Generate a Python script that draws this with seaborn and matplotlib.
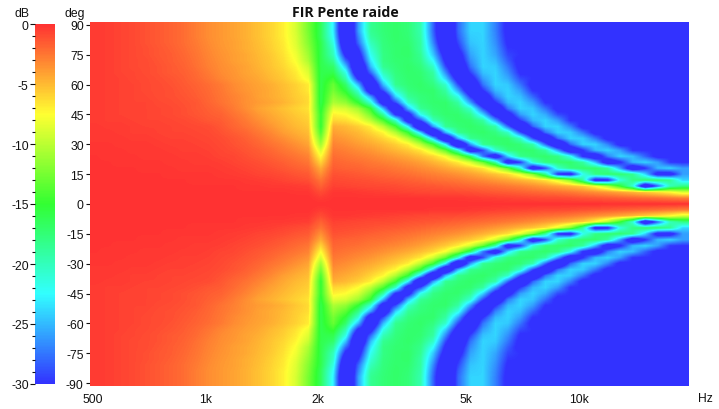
import matplotlib
matplotlib.use("Agg")
import matplotlib.pyplot as plt
from matplotlib.colors import LinearSegmentedColormap
from matplotlib.ticker import FixedLocator
import numpy as np
import pandas as pd
import seaborn as sns

# frequency of each column, 1/9 octave steps read along the x axis
freq_hz = [500, 540, 583, 630, 680, 735, 794, 857, 926, 1000, 1080, 1166,
           1260, 1361, 1470, 1587, 1714, 1852, 2000, 2160, 2333, 2520, 2721, 2939,
           3175, 3429, 3704, 4000, 4320, 4666, 5040, 5443, 5879, 6350, 6858, 7407,
           8000, 8640, 9332, 10079, 10886, 11758, 12699, 13716, 14814, 16000, 17281, 18665]

angles_upper = [90, 87, 84, 81, 78, 75, 72, 69, 66, 63, 60, 57, 54, 51, 48, 45,
                42, 39, 36, 33, 30, 27, 24, 21, 18, 15, 12, 9, 6, 3, 0]

# dB, one row per angle from 90 down to 0.
# rows stop where the plot goes flat blue, the rest is -30
db_upper = [
    [-.4,-.5,-.7,-.9,-1.2,-1.5,-1.8,-2.2,-2.8,-3.4,-3.8,-4.2,-4.7,-5.3,-6,-7,-9,-12.5,-16.5,-23,-38,-26,-18.5,-17.5,-17,-17.5,-19.5,-28,-36,-28,-24,-24,-27,-31],
    [-.4,-.5,-.7,-.9,-1.2,-1.5,-1.8,-2.2,-2.8,-3.4,-3.8,-4.2,-4.7,-5.3,-6,-7,-9,-12.5,-16.5,-23,-38,-26,-18.5,-17.5,-17,-17.5,-19.5,-28,-36,-28,-24,-24,-27,-31],
    [-.4,-.5,-.7,-.9,-1.2,-1.5,-1.8,-2.2,-2.8,-3.4,-3.8,-4.2,-4.7,-5.3,-6,-7,-8.8,-12.2,-16.5,-22.5,-37,-27,-19,-17.6,-17,-17.4,-19.3,-27.5,-35.5,-28.5,-24.3,-24,-26.8,-30.7],
    [-.4,-.5,-.7,-.9,-1.2,-1.5,-1.8,-2.2,-2.7,-3.3,-3.8,-4.1,-4.6,-5.2,-5.9,-6.8,-8.7,-12,-16,-21.5,-36,-28,-20,-17.7,-17.1,-17.2,-19,-26.7,-34.7,-29.3,-24.6,-24,-26.5,-30.4],
    [-.4,-.5,-.7,-.9,-1.1,-1.4,-1.7,-2.1,-2.6,-3.2,-3.7,-4.1,-4.6,-5.1,-5.8,-6.7,-8.4,-11.5,-16,-20.5,-34,-30,-21,-17.8,-17.2,-17,-19,-25.5,-33.7,-30.3,-25.2,-24,-26.1,-29.8],
    [-.4,-.5,-.7,-.9,-1.1,-1.4,-1.6,-2,-2.5,-3.1,-3.6,-4,-4.4,-5,-5.6,-6.5,-8,-11,-16,-20,-31,-32,-22,-18,-17.2,-17,-18.5,-24.3,-32,-32,-25.8,-24,-25.7,-29.2],
    [-.4,-.5,-.7,-.9,-1,-1.3,-1.6,-1.9,-2.4,-3,-3.5,-4,-4.4,-4.9,-5.5,-6.3,-7.7,-10.5,-16,-18.6,-28,-33.8,-23.3,-18,-17.3,-17.2,-18.2,-22.4,-30.8,-33,-26.6,-24,-25,-28.4,-31],
    [-.4,-.5,-.7,-.9,-1,-1.2,-1.5,-1.8,-2.3,-2.9,-3.4,-3.8,-4.2,-4.8,-5.4,-6.1,-7.2,-9.5,-16,-17,-24.6,-36.7,-25,-18.5,-17.5,-17,-17.7,-20.4,-29,-35,-27.6,-24,-24.3,-27.4,-30.9],
    [-.4,-.5,-.7,-.8,-1,-1.2,-1.5,-1.7,-2.1,-2.7,-3.3,-3.7,-4.2,-4.6,-5.2,-5.8,-6.8,-8.7,-16,-16,-21.5,-35,-28,-20,-17.7,-17.1,-17.3,-19,-26.6,-34.6,-29.4,-24.7,-24,-26.5,-30.3],
    [-.4,-.5,-.6,-.8,-.9,-1.1,-1.3,-1.6,-2,-2.5,-3.1,-3.6,-4,-4.4,-5,-5.6,-6.5,-8,-16,-14.5,-19.5,-30.5,-32,-22,-18,-17.2,-17.2,-18.5,-24,-32,-32,-26,-24,-25.5,-29,-30],
    [-.4,-.5,-.6,-.7,-.9,-1,-1.2,-1.5,-1.8,-2.2,-2.7,-3.3,-3.8,-4.2,-4.6,-5.2,-5.9,-6.8,-16,-13,-17,-25,-36,-25,-18.4,-17.4,-17,-17.8,-20.6,-29,-35,-27.5,-24,-24.4,-27.5,-31],
    [-.4,-.5,-.6,-.7,-.9,-1,-1.1,-1.4,-1.7,-2.1,-2.6,-3.2,-3.7,-4.1,-4.5,-5.1,-5.8,-6.7,-16,-12.5,-15.4,-21,-34,-29,-20.6,-17.8,-17.2,-17.1,-19,-25.6,-33.8,-30,-25,-24,-26,-30],
    [-.4,-.5,-.6,-.7,-.8,-1,-1.1,-1.3,-1.6,-2,-2.5,-3,-3.5,-4.1,-4.5,-5,-5.7,-6.3,-16,-11.5,-13.5,-18,-26,-35,-24,-18.7,-17.6,-17.2,-18,-21.6,-30,-34,-27,-24,-24.8,-28,-31],
    [-.4,-.5,-.6,-.7,-.7,-.9,-1,-1.2,-1.4,-1.9,-2.4,-2.9,-3.5,-3.9,-4.3,-4.8,-5.5,-6.2,-16,-10.5,-11.5,-15,-21,-33,-29,-20.5,-17.8,-17.2,-17.1,-19,-26,-34,-30,-25,-24,-26,-30],
    [-.4,-.5,-.6,-.7,-.7,-.8,-.9,-1.1,-1.4,-1.7,-2.1,-2.7,-3.4,-4.2,-4.7,-5.3,-5.9,-6.5,-15.5,-8.5,-9,-11,-15,-25,-36,-25,-18.6,-17.5,-17.1,-17.8,-20.8,-29,-35,-27.4,-24,-24.5,-27.6,-31],
    [-.4,-.5,-.6,-.7,-.7,-.8,-.9,-1.1,-1.3,-1.6,-1.8,-2.4,-3,-3.8,-4.4,-5,-5.6,-6.1,-15,-7,-7.5,-9,-12.5,-19,-30.5,-32,-22,-18,-17.2,-17.2,-18.5,-24,-32,-32,-26,-24,-25.5,-29,-30],
    [-.4,-.5,-.5,-.6,-.7,-.7,-.8,-.9,-1.1,-1.4,-1.6,-2.1,-2.7,-3.4,-4.1,-4.7,-5.3,-5.8,-15,-6,-6.3,-7.5,-10,-14,-20.5,-33,-29,-20,-17.7,-17.1,-17.3,-19,-26,-34,-29.6,-25,-24,-26,-30],
    [-.3,-.4,-.4,-.5,-.6,-.6,-.7,-.8,-.9,-1,-1.4,-1.9,-2.4,-3,-3.7,-4.4,-5,-5.5,-15,-4.6,-5,-5.8,-7,-10,-14.5,-23,-38,-26,-18.5,-17.5,-17,-17.5,-19.5,-28,-36,-28,-24,-24,-27,-31],
    [-.3,-.3,-.4,-.5,-.5,-.6,-.7,-.7,-.8,-.9,-1.2,-1.6,-2,-2.6,-3.2,-4,-4.6,-5.1,-14,-4,-4.5,-5,-6,-7.3,-10.4,-15,-24.5,-37,-25,-18.4,-17.4,-17,-17.8,-20.4,-29,-35,-27.6,-24,-24.3,-27.4,-31],
    [-.3,-.3,-.3,-.4,-.4,-.5,-.6,-.6,-.7,-.8,-1,-1.3,-1.7,-2.2,-2.8,-3.4,-4.1,-4.7,-12.5,-3.5,-3.9,-4.5,-5.1,-6,-7.3,-10.4,-15,-24.5,-37,-25,-18.4,-17.6,-17.1,-17.3,-20.4,-29,-35,-27.6,-24,-24.3,-27.4,-31],
    [-.2,-.2,-.3,-.3,-.3,-.4,-.5,-.5,-.6,-.7,-.9,-1.2,-1.5,-1.9,-2.4,-2.9,-3.5,-4.2,-11,-3,-3.4,-3.9,-4.4,-5,-5.8,-7,-10,-14.5,-23,-38,-26,-18.5,-17.5,-17,-17.5,-19.5,-28,-36,-28,-24,-24,-27,-31],
    [-.2,-.2,-.2,-.3,-.3,-.3,-.4,-.5,-.5,-.6,-.8,-1,-1.3,-1.6,-2,-2.5,-3,-3.6,-9,-2.6,-2.9,-3.3,-3.7,-4.3,-4.9,-5.6,-6.7,-9.2,-13.4,-21,-34,-29,-20.6,-17.8,-17.2,-17.2,-19,-26,-34,-30,-25,-24,-26,-30],
    [-.1,-.2,-.2,-.2,-.3,-.3,-.3,-.4,-.4,-.5,-.7,-.8,-1.1,-1.4,-1.7,-2.1,-2.5,-3,-7.5,-2.2,-2.5,-2.8,-3.1,-3.5,-4,-4.5,-5.2,-6.1,-7.9,-11.5,-17,-27.5,-34,-23.7,-18.2,-17.4,-17.1,-18,-22,-30.4,-33.6,-27,-24,-24.9,-28.2,-31],
    [-.1,-.1,-.2,-.2,-.2,-.2,-.3,-.3,-.4,-.4,-.5,-.7,-.9,-1.1,-1.4,-1.7,-2.1,-2.5,-6,-1.9,-2.1,-2.3,-2.6,-2.9,-3.2,-3.6,-4.1,-4.8,-5.6,-6.9,-9.1,-13,-19.6,-33.5,-29.6,-20.8,-17.8,-17.2,-17.1,-19,-25,-33.6,-30.4,-25,-24,-25.9,-29.8],
    [-.1,-.1,-.1,-.1,-.2,-.2,-.2,-.3,-.3,-.3,-.4,-.5,-.7,-.9,-1.1,-1.4,-1.7,-2,-4.5,-1.6,-1.8,-1.9,-2.2,-2.3,-2.6,-2.9,-3.3,-3.7,-4.3,-4.9,-5.6,-6.7,-9.2,-13.4,-21,-34,-29,-20.6,-17.8,-17.2,-17.2,-19,-26,-34,-30,-25,-24,-26],
    [-.1,-.1,-.1,-.1,-.1,-.1,-.2,-.2,-.2,-.2,-.3,-.4,-.5,-.7,-.8,-1,-1.3,-1.5,-3.5,-1.2,-1.3,-1.5,-1.7,-1.9,-2.1,-2.3,-2.6,-2.9,-3.2,-3.6,-4.1,-4.7,-5.4,-6.4,-8.5,-12,-18.8,-30.5,-32,-22,-18,-17.2,-17.2,-18.5,-24,-32,-32,-26],
    [-.1,-.1,-.1,-.1,-.1,-.1,-.1,-.1,-.2,-.2,-.2,-.2,-.3,-.4,-.5,-.7,-.9,-1.1,-2.5,-.9,-1,-1.1,-1.2,-1.4,-1.5,-1.7,-1.9,-2.2,-2.4,-2.6,-3,-3.3,-3.8,-4.3,-4.9,-5.5,-6.5,-8.6,-12,-19,-32,-31,-21.5,-18,-17.2,-17.2,-18.5,-24],
    [-.1,-.1,-.1,-.1,-.1,-.1,-.1,-.1,-.1,-.1,-.1,-.1,-.2,-.2,-.3,-.3,-.4,-.5,-1.8,-.6,-.7,-.8,-.9,-.9,-1,-1.2,-1.3,-1.4,-1.6,-1.8,-2,-2.2,-2.4,-2.7,-3,-3.4,-3.9,-4.4,-5,-5.8,-7.6,-10.4,-15,-21,-36,-28,-20,-18],
    [0,0,0,0,0,0,0,0,0,0,-.1,-.1,-.1,-.1,-.1,-.1,-.2,-.2,-1,-.2,-.2,-.3,-.4,-.5,-.6,-.7,-.8,-.9,-.9,-1,-1.1,-1.3,-1.5,-1.6,-1.8,-2,-2.2,-2.4,-2.7,-3.1,-3.5,-3.9,-4.4,-5,-5.7,-6.5,-7.5,-9],
    [0,0,0,0,0,0,0,0,0,0,0,0,0,0,0,0,0,0,-.4,-.1,-.1,-.1,-.1,-.1,-.1,-.1,-.1,-.2,-.2,-.2,-.3,-.4,-.5,-.6,-.7,-.8,-.9,-.9,-1,-1.2,-1.3,-1.5,-1.7,-1.9,-2.1,-2.3,-2.6,-2.9],
    [0] * 48,
]

x_tick_hz = [500, 1000, 2000, 5000, 10000]
x_tick_labels = ["500", "1k", "2k", "5k", "10k"]
y_tick_deg = [90, 75, 60, 45, 30, 15, 0, -15, -30, -45, -60, -75, -90]
cbar_major = [0, -5, -10, -15, -20, -25, -30]
cbar_minor = [v for v in range(-30, 1) if v % 5 != 0]

rainbow = LinearSegmentedColormap.from_list(
    "spl", ["#3232FF", "#32FFFF", "#32FF32", "#FFFF32", "#FF3232"])

plt.rcParams["font.family"] = ["Liberation Sans", "DejaVu Sans"]
plt.rcParams["axes.unicode_minus"] = False

W, H = 719, 410
fig = plt.figure(figsize=(W / 100, H / 100), dpi=100)
ax = fig.add_axes([90 / W, 1 - 387 / H, 599 / W, 364 / H])
cax = fig.add_axes([35 / W, 1 - 385 / H, 20 / W, 360 / H])

# pad the short rows, mirror the top half for the negative angles
rows = [r + [-30] * (len(freq_hz) - len(r)) for r in db_upper]
rows = rows + rows[-2::-1]
angles = angles_upper + [-a for a in angles_upper[-2::-1]]
df = pd.DataFrame(rows, index=angles, columns=freq_hz)

sns.heatmap(df, ax=ax, cbar_ax=cax, cmap=rainbow, vmin=-30, vmax=0,
            xticklabels=False, yticklabels=False)

# the original is drawn smooth, so redraw the same cells with bilinear shading
ax.imshow(df.values, cmap=rainbow, vmin=-30, vmax=0, aspect="auto", zorder=3,
          interpolation="bilinear", extent=(0, len(freq_hz), len(angles), 0))
ax.set_xlim(0, len(freq_hz))
ax.set_ylim(len(angles), 0)

ax.set_yticks([angles.index(a) + 0.5 for a in y_tick_deg])
ax.set_yticklabels(y_tick_deg)
ax.set_xticks([9 * np.log2(f / 500) + 0.25 for f in x_tick_hz])
ax.set_xticklabels(x_tick_labels)
ax.tick_params(axis="y", length=3, width=0.8, pad=1.5, labelsize=8.7, colors="#111111")
ax.tick_params(axis="x", length=0, pad=5, labelsize=8.7, colors="#111111")
plt.setp(ax.get_yticklabels(), rotation=0)
for s in ax.spines.values():
    s.set_visible(False)

cax.yaxis.set_ticks_position("left")
cax.yaxis.set_major_locator(FixedLocator(cbar_major))
cax.yaxis.set_minor_locator(FixedLocator(cbar_minor))
cax.tick_params(which="major", length=3.5, width=0.8, pad=1, labelsize=8.7, colors="#111111")
cax.tick_params(which="minor", length=2, width=0.8, color="#111111")
for s in cax.spines.values():
    s.set_visible(False)

fig.text(345.5 / W, 1 - 13 / H, "FIR Pente raide", family="Open Sans", weight="bold",
         fontsize=10.2, ha="center", va="center", color="#111111")
fig.text(22 / W, 1 - 14 / H, "dB", fontsize=8.7, ha="center", va="center", color="#111111")
fig.text(75 / W, 1 - 14.5 / H, "deg", fontsize=8.7, ha="center", va="center", color="#111111")
fig.text(705 / W, 1 - 399 / H, "Hz", fontsize=8.7, ha="center", va="center", color="#111111")

fig.savefig("out.png", dpi=100)
